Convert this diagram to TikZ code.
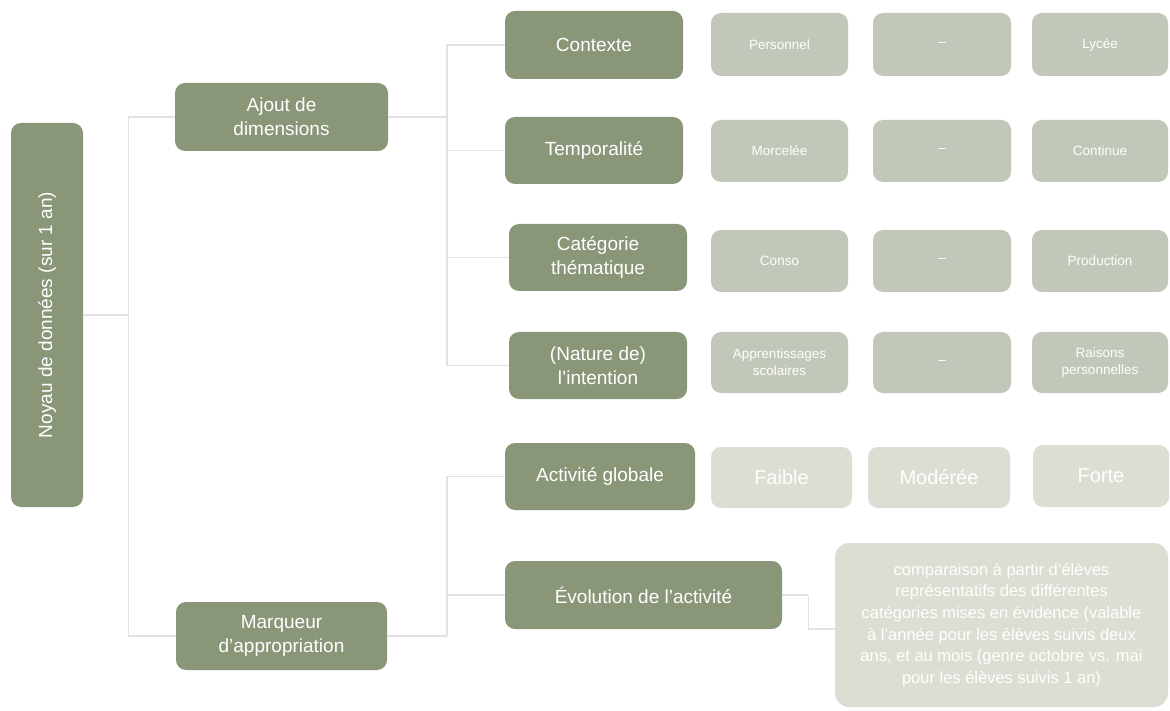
\documentclass[tikz,border=0pt]{standalone}
\usepackage{fontspec}
\setmainfont{Liberation Sans}
\definecolor{darkg}{HTML}{8A9678}
\definecolor{midg}{HTML}{C1C7B9}
\definecolor{lightg}{HTML}{DADED3}
\definecolor{linec}{HTML}{E2E2E2}
\tikzset{
  base/.style={rounded corners=10pt, inner sep=2pt, align=center, text=white},
  dark/.style={base, fill=darkg, font=\fontsize{19}{24}\selectfont},
  mid/.style={base, fill=midg, font=\fontsize{13.5}{17}\selectfont},
  light/.style={base, fill=lightg, font=\fontsize{20}{24}\selectfont},
  conn/.style={draw=linec, line width=1.3pt},
}
\begin{document}
\begin{tikzpicture}[x=1pt,y=-1pt]
\useasboundingbox (0,0) rectangle (1170,711);
% level 0
\node[dark, minimum width=72pt, minimum height=384pt] (noyau) at (47,315) {};
\node[text=white, font=\fontsize{19}{24}\selectfont, rotate=90] (noyaut) at (noyau.center) {Noyau de données (sur 1 an)};
% level 1
\node[dark, minimum width=213pt, minimum height=68pt] (ajout) at (281.5,117) {Ajout de\\dimensions};
\node[dark, minimum width=211pt, minimum height=68pt] (marq) at (281.5,636) {Marqueur\\d’appropriation};
% level 2
\node[dark, minimum width=178pt, minimum height=68pt] (ctx) at (594,45) {Contexte};
\node[dark, minimum width=178pt, minimum height=67pt] (temp) at (594,150.5) {Temporalité};
\node[dark, minimum width=178pt, minimum height=67pt] (cat) at (598,257.5) {Catégorie\\thématique};
\node[dark, minimum width=178pt, minimum height=67pt] (nat) at (598,365.5) {(Nature de)\\l’intention};
\node[dark, minimum width=190pt, minimum height=67pt] (act) at (600,476.5) {Activité globale};
\node[dark, minimum width=277pt, minimum height=68pt] (evo) at (643.5,595) {Évolution de l’activité};
% values
\node[mid, minimum width=137pt, minimum height=63pt] (r1a) at (779.5,44.5) {Personnel};
\node[mid, minimum width=138pt, minimum height=63pt] (r1b) at (942,44.5) {–};
\node[mid, minimum width=136pt, minimum height=63pt] (r1c) at (1100,44.5) {Lycée};
\node[mid, minimum width=137pt, minimum height=62pt] (r2a) at (779.5,151) {Morcelée};
\node[mid, minimum width=138pt, minimum height=62pt] (r2b) at (942,151) {–};
\node[mid, minimum width=136pt, minimum height=62pt] (r2c) at (1100,151) {Continue};
\node[mid, minimum width=137pt, minimum height=62pt] (r3a) at (779.5,261) {Conso};
\node[mid, minimum width=138pt, minimum height=62pt] (r3b) at (942,261) {–};
\node[mid, minimum width=136pt, minimum height=62pt] (r3c) at (1100,261) {Production};
\node[mid, minimum width=137pt, minimum height=61pt] (r4a) at (779.5,362.5) {Apprentissages\\scolaires};
\node[mid, minimum width=138pt, minimum height=61pt] (r4b) at (942,362.5) {–};
\node[mid, minimum width=136pt, minimum height=61pt] (r4c) at (1100,362.5) {Raisons\\personnelles};
\node[light, minimum width=141pt, minimum height=61pt] (faible) at (781.5,477.5) {Faible};
\node[light, minimum width=142pt, minimum height=61pt] (mod) at (939,477.5) {Modérée};
\node[light, minimum width=136pt, minimum height=62pt] (forte) at (1101,476) {Forte};
\node[light, rounded corners=14pt, minimum width=333pt, minimum height=164pt,
      font=\fontsize{16.5}{21.7}\selectfont] (big) at (1001.5,625)
  {comparaison à partir d’élèves\\représentatifs des différentes\\catégories mises en évidence (valable\\à l’année pour les élèves suivis deux\\ans, et au mois (genre octobre vs. mai\\pour les élèves suivis 1 an)};
% connectors
\draw[conn] (noyau.east) -- ++(45,0) coordinate (j1);
\draw[conn] (ajout.west) -| (j1) |- (marq.west);
\draw[conn] (ajout.east) -- (447,117) coordinate (j2);
\draw[conn] (ctx.west) -| (j2) |- (nat.west);
\draw[conn] (temp.west) -| (j2);
\draw[conn] (cat.west) -| (j2);
\draw[conn] (marq.east) -- (447,636) coordinate (j3);
\draw[conn] (act.west) -| (j3);
\draw[conn] (evo.west) -| (j3);
\draw[conn] (evo.east) -- ++(26,0) coordinate (j4);
\draw[conn] (j4) |- ([yshift=-4pt]big.west);
\end{tikzpicture}
\end{document}
